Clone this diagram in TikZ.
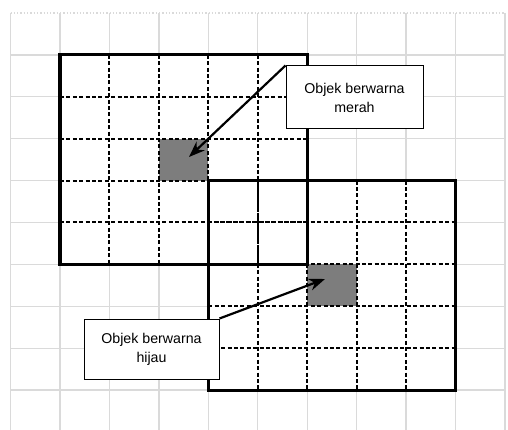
\documentclass[tikz,border=0pt]{standalone}
\usepackage{fontspec}
\setmainfont{Liberation Sans}
\usetikzlibrary{arrows.meta}
\definecolor{bggrid}{RGB}{218,218,218}
\definecolor{cellgray}{RGB}{125,125,125}
\tikzset{
  bgline/.style={draw=bggrid, line width=1.3pt},
  bigbox/.style={draw=black, line width=3.2pt, fill=white},
  dashline/.style={draw=black, line width=2pt, dash pattern=on 4pt off 2.4pt},
  shadecell/.style={fill=cellgray, draw=none},
  callout/.style={draw=black, line width=1pt, fill=white, align=center, inner sep=0pt,
    font=\fontsize{14.2}{19}\selectfont},
  pointer/.style={draw=black, line width=2.2pt, -{Stealth[length=16pt, width=12pt]}}
}
\begin{document}
\begin{tikzpicture}[x=1pt, y=-1pt]
\useasboundingbox (0,0) rectangle (508,430);
\fill[white] (0,0) rectangle (508,430);
% background grid
\foreach \i in {0,...,10} {
  \draw[bgline] ({10.5+49.45*\i},13) -- ({10.5+49.45*\i},430);
}
\draw[bggrid, line width=1.3pt, dotted] (10.5,13) -- (505,13);
\foreach \j in {1,...,9} {
  \draw[bgline] (10.5,{13+41.9*\j}) -- (505,{13+41.9*\j});
}
% left big square
\path[bigbox] (60,54.9) rectangle (307.2,264.4);
% right big square fill
\fill[white] (208.3,180.6) rectangle (455.6,390.1);
% shaded cells
\path[shadecell] (158.9,138.7) rectangle (208.3,180.6);
\path[shadecell] (307.2,264.4) rectangle (356.7,306.3);
% left dashed grid
\foreach \i in {2,...,5} {
  \draw[dashline] ({10.5+49.45*\i},54.9) -- ({10.5+49.45*\i},264.4);
}
\foreach \j in {2,...,5} {
  \draw[dashline] (60,{13+41.9*\j}) -- (307.2,{13+41.9*\j});
}
% right dashed grid
\foreach \i in {5,...,8} {
  \draw[dashline] ({10.5+49.45*\i},180.6) -- ({10.5+49.45*\i},390.1);
}
\foreach \j in {5,...,8} {
  \draw[dashline] (208.3,{13+41.9*\j}) -- (455.6,{13+41.9*\j});
}
% outlines
\draw[black, line width=3.2pt] (60,54.9) rectangle (307.2,264.4);
\draw[black, line width=3.2pt] (208.3,180.6) rectangle (455.6,390.1);
% callouts
\node[callout, minimum width=137pt, minimum height=63pt] (merah) at (354.5,97.5) {Objek berwarna\\merah};
\node[callout, minimum width=135pt, minimum height=60pt] (hijau) at (151.5,349) {Objek berwarna\\hijau};
\coordinate (redtip) at (189,157);
\coordinate (greentip) at (325,279);
\draw[pointer] (merah.north west) -- (redtip);
\draw[pointer] (hijau.north east) -- (greentip);
\end{tikzpicture}
\end{document}
